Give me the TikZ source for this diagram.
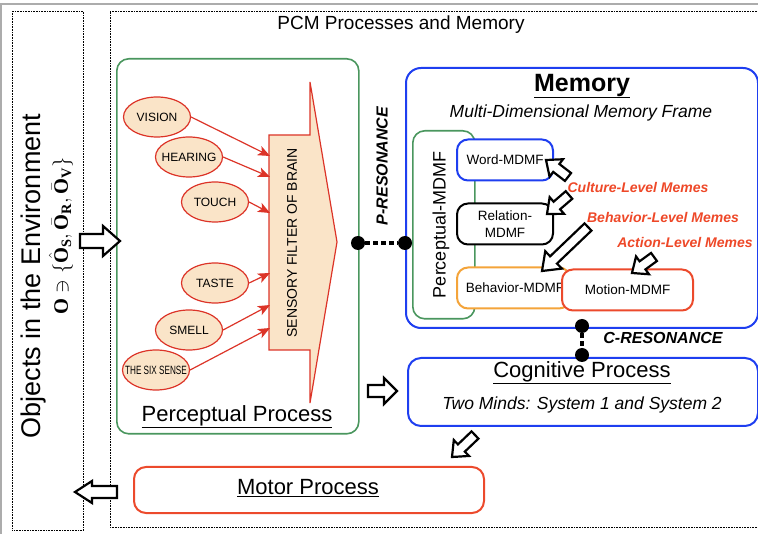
\RequirePackage{fix-cm}
\documentclass[tikz,border=0pt]{standalone}
\usepackage{fontspec}
\setmainfont{Liberation Sans}
\setmathrm{Liberation Serif}
\usepackage{graphicx}
\usetikzlibrary{calc,arrows.meta,shapes.geometric}

\definecolor{pgreen}{RGB}{74,150,94}
\definecolor{mblue}{RGB}{30,62,240}
\definecolor{sred}{RGB}{220,52,40}
\definecolor{speach}{RGB}{250,228,200}
\definecolor{morange}{RGB}{244,164,58}
\definecolor{mred}{RGB}{236,74,44}
\definecolor{memered}{RGB}{238,72,40}
\definecolor{edgegray}{RGB}{172,172,172}

\newcommand\fs[1]{\fontsize{#1}{#1}\selectfont}

% hollow block arrow: tail, tip, shaft half-width, head half-width, head length
\newcommand\blockarrow[5]{%
  \coordinate (ba-neck) at ($(#2)!#5!(#1)$);
  \draw[blockarr] ($(#1)!#3!90:(#2)$) -- ($(ba-neck)!#3!90:(#2)$)
    -- ($(ba-neck)!#4!90:(#2)$) -- (#2) -- ($(ba-neck)!#4!-90:(#2)$)
    -- ($(ba-neck)!#3!-90:(#2)$) -- ($(#1)!#3!-90:(#2)$) -- cycle;}

\begin{document}
\begin{tikzpicture}[x=1pt,y=-1pt,
  dotframe/.style={draw=black, line width=0.8pt, dash pattern=on 0.8pt off 0.8pt},
  sense/.style={ellipse, draw=sred, fill=speach, line width=1.2pt, minimum width=67pt,
    minimum height=40pt, inner xsep=-10pt, inner ysep=0pt, font=\fs{12}},
  sensearrow/.style={draw=sred, line width=1.2pt, -{Stealth[length=12pt,width=10pt,inset=3pt]}},
  resdot/.style={circle, fill=black, minimum size=14pt, inner sep=0pt},
  resline/.style={line width=4pt, dash pattern=on 5pt off 3pt},
  reslabel/.style={font=\fs{16}\bfseries\itshape},
  mdmf/.style={rounded corners=11pt, fill=white, line width=2pt, minimum height=41pt,
    inner sep=0pt, font=\fs{13.5}},
  meme/.style={font=\fs{14}\bfseries\itshape, text=memered},
  blockarr/.style={draw=black, line width=2.2pt, fill=white, line join=miter},
  procbox/.style={rounded corners=13pt, line width=2pt, anchor=north west, inner sep=0pt}]

\useasboundingbox (0,0) rectangle (758,534);

% page edge
\draw[edgegray, line width=1.5pt] (0,4) -- (758,4);
\draw[edgegray, line width=1.5pt] (1,4) -- (1,534);

% environment frame and the process frame
\node (envframe) [dotframe, minimum width=71pt, minimum height=519pt, anchor=north west, inner sep=0pt] at (12,11) {};
\draw[dotframe] (762,11) -- (110,11) -- (110,527) -- (762,527);
\node (title) at (401,25) {\fs{19}PCM Processes and Memory};

\node (envtitle) [rotate=90] at (34,276) {\fs{27}Objects in the Environment};
\node (envset) [rotate=90] at (61,236)
  {\fs{20.5}$\mathbf{O}\ni\{\hat{\mathbf{O}}_{\mathbf{S}},\bar{\mathbf{O}}_{\mathbf{R}},\bar{\mathbf{O}}_{\mathbf{V}}\}$};

% perceptual process
\node (perc) [draw=pgreen, line width=1.6pt, rounded corners=12pt, minimum width=242pt,
  minimum height=375pt, anchor=north west, inner sep=0pt] at (116,58) {};
\node (perctitle) at (237,417) {\fs{22}\underline{Perceptual Process}};

\draw[sred, fill=speach, line width=1.2pt] (269,135) -- (310,135) -- (310,82) -- (337,242)
  -- (310,403) -- (310,350) -- (269,350) -- cycle;
\node (filter) [rotate=90] at (292,243) {\fs{14}SENSORY FILTER OF BRAIN};

\node (vision)  [sense] at (157,117) {VISION};
\node (hearing) [sense] at (189,157) {HEARING};
\node (touch)   [sense] at (215,202) {TOUCH};
\node (taste)   [sense] at (215,283) {TASTE};
\node (smell)   [sense] at (189,330) {SMELL};
\node (sixth)   [sense] at (156,370) {\scalebox{0.68}[1]{THE SIX SENSE}};

\coordinate (fin1) at (270,156);
\coordinate (fin2) at (270,177);
\coordinate (fin3) at (270,213);
\coordinate (fin4) at (270,273);
\coordinate (fin5) at (270,305);
\coordinate (fin6) at (270,328);
\draw[sensearrow] (vision.east) -- (fin1);
\draw[sensearrow] (hearing.east) -- (fin2);
\draw[sensearrow] (touch.east) -- (fin3);
\draw[sensearrow] (taste.east) -- (fin4);
\draw[sensearrow] (smell.east) -- (fin5);
\draw[sensearrow] (sixth.east) -- (fin6);

% memory
\node (mem) [procbox, draw=mblue, rounded corners=15pt, minimum width=352pt, minimum height=260pt] at (405,67) {};
\node (memtitle) at (582,86) {\fs{25}\bfseries\underline{Memory}};
\node (memsub) at (581,113) {\fs{17.5}\itshape Multi-Dimensional Memory Frame};

\node (pmdmf) [draw=pgreen, line width=1.6pt, rounded corners=12pt, minimum width=62pt,
  minimum height=188pt, anchor=north west, inner sep=0pt] at (412,130) {};
\node (pmdmftext) [rotate=90] at (441,225) {\fs{18}Perceptual-MDMF};

\node (word) [mdmf, draw=mblue, minimum width=96pt] at (505,160) {Word-MDMF};
\node (relation) [mdmf, draw=black, minimum width=96pt, align=center, font=\fontsize{13.5}{17}\selectfont] at (505,224) {Relation-\\MDMF};
\node (behav) [mdmf, draw=morange, minimum width=113pt] at (513.5,288) {};
\node (behavtext) at (515,288) {\fs{13.5}Behavior-MDMF};
\node (motion) [mdmf, draw=mred, minimum width=131pt] at (627.5,290) {Motion-MDMF};

\node (culture) [meme] at (638,187) {Culture-Level Memes};
\node (behavmeme) [meme] at (663,217) {Behavior-Level Memes};
\node (actionmeme) [meme] at (685,242) {Action-Level Memes};

\coordinate (cw1) at (568,177);
\coordinate (cw2) at (546,160);
\coordinate (cr1) at (569,195);
\coordinate (cr2) at (547,214);
\coordinate (bm1) at (588,227);
\coordinate (bm2) at (542,271);
\coordinate (am1) at (654,257);
\coordinate (am2) at (632,273);
\blockarrow{cw1}{cw2}{5pt}{11pt}{13pt}
\blockarrow{cr1}{cr2}{5pt}{11pt}{13pt}
\blockarrow{bm1}{bm2}{5pt}{12pt}{16pt}
\blockarrow{am1}{am2}{5pt}{11pt}{13pt}

% P-resonance link
\node (pdot1) [resdot] at (358,243) {};
\node (pdot2) [resdot] at (405,243) {};
\draw[resline] (pdot1) -- (pdot2);
\node (plabel) [reslabel, rotate=90] at (382,166) {P-RESONANCE};

% cognitive process
\node (cog) [procbox, draw=mblue, minimum width=350pt, minimum height=68pt] at (407,357) {};
\node (cogtitle) at (582,373) {\fs{22}\underline{Cognitive Process}};
\node (cogsub) at (582,405) {\fs{17.5}\itshape Two Minds: System 1 and System 2};

% C-resonance link
\node (cdot1) [resdot] at (582,326) {};
\node (cdot2) [resdot] at (582,355) {};
\draw[resline] (cdot1) -- (cdot2);
\node (clabel) [reslabel] at (663,338) {C-RESONANCE};

% motor process
\node (motor) [procbox, draw=mred, rounded corners=12pt, minimum width=350pt, minimum height=46pt] at (133,466) {};
\node (motortitle) at (308,488) {\fs{22}\underline{Motor Process}};

% flow between environment and processes
\coordinate (ea1) at (80,241);
\coordinate (ea2) at (120,241);
\coordinate (ca1) at (368,391);
\coordinate (ca2) at (397,391);
\coordinate (ma1) at (475,435);
\coordinate (ma2) at (452,457);
\coordinate (oa1) at (117,492);
\coordinate (oa2) at (75,492);
\blockarrow{ea1}{ea2}{7pt}{15pt}{17pt}
\blockarrow{ca1}{ca2}{6pt}{13pt}{13pt}
\blockarrow{ma1}{ma2}{5pt}{11pt}{13pt}
\blockarrow{oa1}{oa2}{6pt}{11pt}{17pt}

\end{tikzpicture}
\end{document}
